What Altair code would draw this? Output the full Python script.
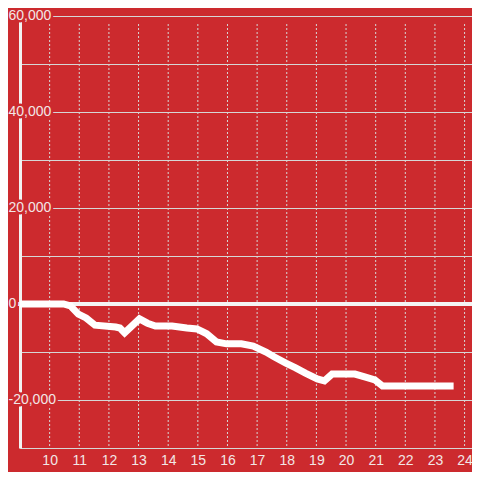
import altair as alt
import pandas as pd

# ---- data ----
hours = [9.0, 10.47, 10.7, 10.97, 11.23, 11.53, 12.23, 12.37, 12.53, 13.03, 13.3,
         13.57, 14.13, 14.63, 14.97, 15.3, 15.63, 15.97, 16.47, 16.87, 17.3, 17.57,
         17.97, 18.3, 18.63, 19.03, 19.27, 19.53, 20.3, 20.63, 20.97, 21.23, 23.63]
values = [0, 0, -400, -2100, -2900, -4400, -4800, -5000, -6000, -3100, -4000,
          -4600, -4600, -5000, -5200, -6200, -7900, -8300, -8300, -8750, -10000, -11000,
          -12300, -13300, -14400, -15600, -16000, -14600, -14600, -15200, -15800, -17100, -17100]

x_ticks = list(range(10, 25))
y_grid = [-30000, -20000, -10000, 0, 10000, 20000, 30000, 40000, 50000, 60000]
y_label_vals = [60000, 40000, 20000, 0, -20000]
y_label_txt = ["60,000", "40,000", "20,000", "0", "-20,000"]

BG = "#cc2a2e"
GRID = "#d6d6d6"
LABEL = "#f2e6e6"
FONT = "Liberation Sans"
W = 452
H = 432

df_line = pd.DataFrame({"x": hours, "y": values})
df_vgrid = pd.DataFrame({"x": x_ticks})
df_lab = pd.DataFrame({"y": y_label_vals, "txt": y_label_txt})

xscale = alt.Scale(domain=[9, 24.25], nice=False, zero=False)
yscale = alt.Scale(domain=[-30000, 60000], nice=False, zero=False)

xaxis = alt.Axis(values=x_ticks, grid=False, ticks=False, domain=True,
                 domainColor=GRID, domainWidth=1, labelColor=LABEL,
                 labelFontSize=14, labelFont=FONT, labelPadding=5,
                 labelFlush=False, labelOverlap=False, title=None)
yaxis = alt.Axis(values=y_grid, grid=True, gridColor=GRID, gridWidth=1,
                 labels=False, ticks=False, domain=True,
                 domainColor="#f2f2f2", domainWidth=3, title=None)

X = alt.X("x:Q", scale=xscale, axis=xaxis)
Y = alt.Y("y:Q", scale=yscale, axis=yaxis)

vgrid = alt.Chart(df_vgrid).mark_rule(color=GRID, strokeWidth=1, strokeDash=[2, 2]).encode(
    x=X,
    y=alt.value(8),
    y2=alt.value(430),
)

line = alt.Chart(df_line).mark_line(
    color="white", strokeWidth=7, strokeCap="butt", strokeJoin="miter"
).encode(x=X, y=Y)

zero = alt.Chart(df_lab).mark_rule(color="#f4f4f4", strokeWidth=4).encode(
    y=alt.datum(0, scale=yscale, axis=yaxis),
    x=alt.value(-3),
    x2=alt.value(W),
)

halo = alt.Chart(df_lab).mark_text(
    align="left", baseline="middle", fontSize=14, font=FONT,
    fill=BG, stroke=BG, strokeWidth=5, strokeJoin="round"
).encode(y=Y, x=alt.value(-11.5), text="txt:N")

labels = alt.Chart(df_lab).mark_text(
    align="left", baseline="middle", fontSize=14, font=FONT, fill=LABEL
).encode(y=Y, x=alt.value(-11.5), text="txt:N")

chart = alt.layer(vgrid, zero, line, halo, labels).properties(
    width=W,
    height=H,
    background=BG,
    autosize=alt.AutoSizeParams(type="none"),
    padding={"left": 12, "top": 8, "right": 0, "bottom": 24},
).configure_view(stroke=None)

chart.save("out.html", embed_options={"renderer": "svg", "actions": False})
